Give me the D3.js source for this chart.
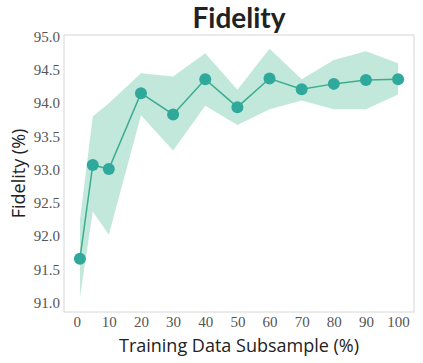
<!DOCTYPE html>
<html>
<head>
<meta charset="utf-8">
<script src="https://cdn.jsdelivr.net/npm/d3@7"></script>
<style>
  body { margin: 0; background: #fff; }
</style>
</head>
<body>
<div id="chart"></div>
<script>
// subsample percentages and fidelity (mean with lower/upper band)
const subsample = [1, 5, 10, 20, 30, 40, 50, 60, 70, 80, 90, 100];
const fidelity = [91.66, 93.07, 93.01, 94.15, 93.83, 94.36, 93.94, 94.37, 94.21, 94.29, 94.35, 94.36];
const lower = [91.08, 92.37, 92.02, 93.82, 93.29, 93.96, 93.67, 93.91, 94.04, 93.91, 93.91, 94.13];
const upper = [92.24, 93.80, 94.00, 94.45, 94.40, 94.75, 94.20, 94.82, 94.36, 94.65, 94.78, 94.60];
const xTicks = [0, 10, 20, 30, 40, 50, 60, 70, 80, 90, 100];
const yTicks = [91.0, 91.5, 92.0, 92.5, 93.0, 93.5, 94.0, 94.5, 95.0];

const width = 423, height = 363;
const margin = {left: 64, right: 9, top: 35, bottom: 51};

const svg = d3.select("#chart")
    .append("svg")
    .attr("width", width)
    .attr("height", height);

const x = d3.scaleLinear()
    .domain([-3.95, 104.95])
    .range([margin.left, width - margin.right]);
const y = d3.scaleLinear()
    .domain([90.86, 95.025])
    .range([height - margin.bottom, margin.top]);

const rows = subsample.map((s, i) => ({s: s, m: fidelity[i], lo: lower[i], hi: upper[i]}));

// band
svg.append("path")
    .datum(rows)
    .attr("d", d3.area()
        .x(d => x(d.s))
        .y0(d => y(d.lo))
        .y1(d => y(d.hi)))
    .style("fill", "#66c2a5")
    .style("fill-opacity", 0.4)
    .style("stroke", "none");

// mean line
svg.append("path")
    .datum(rows)
    .attr("d", d3.line().x(d => x(d.s)).y(d => y(d.m)))
    .style("fill", "none")
    .style("stroke", "#3cad8e")
    .style("stroke-width", "1.5px");

svg.selectAll(".pt")
    .data(rows)
    .join("circle")
    .classed("pt", true)
    .attr("cx", d => x(d.s))
    .attr("cy", d => y(d.m))
    .attr("r", 6)
    .style("fill", "#2fa99b");

// frame
svg.append("rect")
    .attr("x", margin.left)
    .attr("y", margin.top)
    .attr("width", width - margin.left - margin.right)
    .attr("height", height - margin.top - margin.bottom)
    .style("fill", "none")
    .style("stroke", "#d6d6d6")
    .style("stroke-width", "1px");

// axes (labels only, no ticks)
const xAxis = svg.append("g")
    .attr("transform", `translate(0,${height - margin.bottom})`)
    .call(d3.axisBottom(x).tickValues(xTicks).tickSize(0).tickPadding(4));
const yAxis = svg.append("g")
    .attr("transform", `translate(${margin.left},0)`)
    .call(d3.axisLeft(y).tickValues(yTicks).tickFormat(d3.format(".1f")).tickSize(0).tickPadding(4));

[xAxis, yAxis].forEach(g => {
    g.select(".domain").remove();
    g.selectAll("text")
        .attr("font-family", "'Liberation Serif', serif")
        .attr("font-size", "15px")
        .attr("fill", "#555");
});

svg.append("text")
    .attr("x", (margin.left + width - margin.right) / 2)
    .attr("y", 28)
    .attr("text-anchor", "middle")
    .attr("font-family", "Lato, sans-serif")
    .attr("font-weight", "bold")
    .attr("font-size", "28px")
    .attr("fill", "#222")
    .text("Fidelity");

svg.append("text")
    .attr("x", (margin.left + width - margin.right) / 2)
    .attr("y", 352)
    .attr("text-anchor", "middle")
    .attr("font-family", "'Open Sans', sans-serif")
    .attr("font-size", "18px")
    .attr("fill", "#222")
    .text("Training Data Subsample (%)");

svg.append("text")
    .attr("transform", `translate(25,${(margin.top + height - margin.bottom) / 2}) rotate(-90)`)
    .attr("text-anchor", "middle")
    .attr("font-family", "'Open Sans', sans-serif")
    .attr("font-size", "18px")
    .attr("fill", "#222")
    .text("Fidelity (%)");
</script>
</body>
</html>
